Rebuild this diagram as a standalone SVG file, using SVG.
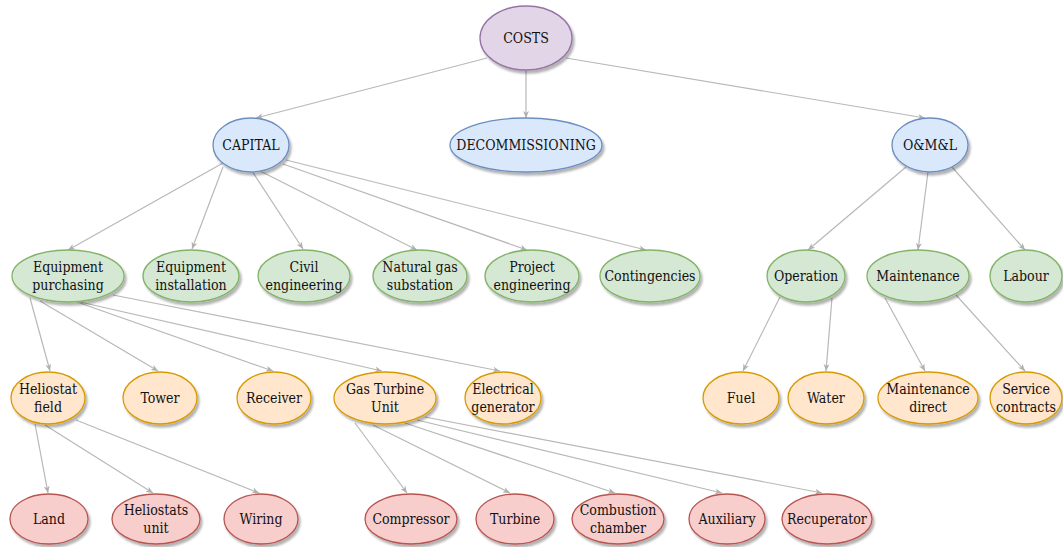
<svg xmlns="http://www.w3.org/2000/svg" width="1063" height="547" viewBox="0 0 1063 547" font-family="DejaVu Serif Condensed, DejaVu Serif, serif" font-size="14">
<style>
text{fill:#111;text-anchor:middle}
.e{stroke:#b8b8b8;stroke-width:1.2;fill:none;marker-end:url(#arr)}
.n ellipse{stroke-width:1.3;filter:url(#sh)}
.p ellipse{fill:#e1d5e7;stroke:#9673a6}
.b ellipse{fill:#dae8fc;stroke:#6c8ebf}
.g ellipse{fill:#d5e8d4;stroke:#82b366}
.o ellipse{fill:#ffe6cc;stroke:#d79b00}
.r ellipse{fill:#f8cecc;stroke:#b85450}
</style>
<defs>
<filter id="sh" x="-20%" y="-20%" width="150%" height="160%">
<feDropShadow dx="2" dy="3" stdDeviation="1.2" flood-color="#000" flood-opacity="0.3"/>
</filter>
<marker id="arr" markerWidth="8" markerHeight="8" refX="7" refY="4" orient="auto" markerUnits="userSpaceOnUse">
<path d="M0,1 L7,4 L0,7 L2,4 Z" fill="#b0b0b0"/>
</marker>
</defs>
<g id="connectors">
<line class="e" x1="487" y1="58" x2="256" y2="118"/>
<line class="e" x1="526" y1="70" x2="526" y2="118"/>
<line class="e" x1="566" y1="58" x2="925" y2="118"/>
<line class="e" x1="223" y1="163" x2="68" y2="250"/>
<line class="e" x1="223" y1="167" x2="192" y2="249"/>
<line class="e" x1="252" y1="171" x2="303" y2="249"/>
<line class="e" x1="260" y1="171" x2="417" y2="250"/>
<line class="e" x1="283" y1="164" x2="527" y2="250"/>
<line class="e" x1="286" y1="160" x2="646" y2="250"/>
<line class="e" x1="906" y1="167" x2="808" y2="250"/>
<line class="e" x1="928" y1="172" x2="918" y2="250"/>
<line class="e" x1="952" y1="167" x2="1025" y2="250"/>
<line class="e" x1="30" y1="298" x2="50" y2="371"/>
<line class="e" x1="40" y1="301" x2="158" y2="371"/>
<line class="e" x1="77" y1="302" x2="273" y2="371"/>
<line class="e" x1="80" y1="302" x2="382" y2="371"/>
<line class="e" x1="113" y1="295" x2="500" y2="371"/>
<line class="e" x1="780" y1="297" x2="743" y2="371"/>
<line class="e" x1="832" y1="298" x2="826" y2="371"/>
<line class="e" x1="885" y1="298" x2="925" y2="371"/>
<line class="e" x1="956" y1="295" x2="1025" y2="371"/>
<line class="e" x1="35" y1="424" x2="48" y2="493"/>
<line class="e" x1="45" y1="425" x2="153" y2="493"/>
<line class="e" x1="76" y1="420" x2="259" y2="493"/>
<line class="e" x1="355" y1="423" x2="407" y2="493"/>
<line class="e" x1="373" y1="425" x2="510" y2="493"/>
<line class="e" x1="405" y1="423" x2="615" y2="493"/>
<line class="e" x1="417" y1="420" x2="722" y2="493"/>
<line class="e" x1="425" y1="417" x2="822" y2="493"/>
</g>
<g id="costs" class="n p"><ellipse cx="526" cy="38" rx="46" ry="32"/><text x="526" y="43">COSTS</text></g>
<g id="capital" class="n b"><ellipse cx="251" cy="145" rx="38" ry="27"/><text x="251" y="150">CAPITAL</text></g>
<g id="decommissioning" class="n b"><ellipse cx="526" cy="145" rx="76" ry="27"/><text x="526" y="150">DECOMMISSIONING</text></g>
<g id="oml" class="n b"><ellipse cx="930" cy="145" rx="38" ry="27"/><text x="930" y="150">O&amp;M&amp;L</text></g>
<g id="equip-purchasing" class="n g"><ellipse cx="68" cy="276" rx="56" ry="26"/><text x="68" y="272">Equipment</text><text x="68" y="290">purchasing</text></g>
<g id="equip-installation" class="n g"><ellipse cx="191" cy="276" rx="48" ry="26"/><text x="191" y="272">Equipment</text><text x="191" y="290">installation</text></g>
<g id="civil" class="n g"><ellipse cx="304" cy="276" rx="46" ry="26"/><text x="304" y="272">Civil</text><text x="304" y="290">engineering</text></g>
<g id="natgas" class="n g"><ellipse cx="420" cy="276" rx="47" ry="26"/><text x="420" y="272">Natural gas</text><text x="420" y="290">substation</text></g>
<g id="project" class="n g"><ellipse cx="532" cy="276" rx="47" ry="26"/><text x="532" y="272">Project</text><text x="532" y="290">engineering</text></g>
<g id="contingencies" class="n g"><ellipse cx="650" cy="276" rx="50" ry="26"/><text x="650" y="281">Contingencies</text></g>
<g id="operation" class="n g"><ellipse cx="806" cy="276" rx="39" ry="26"/><text x="806" y="281">Operation</text></g>
<g id="maintenance" class="n g"><ellipse cx="918" cy="276" rx="51" ry="26"/><text x="918" y="281">Maintenance</text></g>
<g id="labour" class="n g"><ellipse cx="1026" cy="276" rx="36" ry="26"/><text x="1026" y="281">Labour</text></g>
<g id="heliostat-field" class="n o"><ellipse cx="48" cy="398" rx="37" ry="26"/><text x="48" y="394">Heliostat</text><text x="48" y="412">field</text></g>
<g id="tower" class="n o"><ellipse cx="160" cy="398" rx="37" ry="26"/><text x="160" y="403">Tower</text></g>
<g id="receiver" class="n o"><ellipse cx="274" cy="398" rx="37" ry="26"/><text x="274" y="403">Receiver</text></g>
<g id="gas-turbine" class="n o"><ellipse cx="385" cy="398" rx="51" ry="26"/><text x="385" y="394">Gas Turbine</text><text x="385" y="412">Unit</text></g>
<g id="generator" class="n o"><ellipse cx="503" cy="398" rx="38" ry="26"/><text x="503" y="394">Electrical</text><text x="503" y="412">generator</text></g>
<g id="fuel" class="n o"><ellipse cx="741" cy="398" rx="38" ry="26"/><text x="741" y="403">Fuel</text></g>
<g id="water" class="n o"><ellipse cx="826" cy="398" rx="38" ry="26"/><text x="826" y="403">Water</text></g>
<g id="maint-direct" class="n o"><ellipse cx="928" cy="398" rx="50" ry="26"/><text x="928" y="394">Maintenance</text><text x="928" y="412">direct</text></g>
<g id="service" class="n o"><ellipse cx="1026" cy="398" rx="36" ry="26"/><text x="1026" y="394">Service</text><text x="1026" y="412">contracts</text></g>
<g id="land" class="n r"><ellipse cx="49" cy="519" rx="39" ry="25"/><text x="49" y="524">Land</text></g>
<g id="heliostats-unit" class="n r"><ellipse cx="156" cy="519" rx="44" ry="25"/><text x="156" y="515">Heliostats</text><text x="156" y="533">unit</text></g>
<g id="wiring" class="n r"><ellipse cx="261" cy="519" rx="37" ry="25"/><text x="261" y="524">Wiring</text></g>
<g id="compressor" class="n r"><ellipse cx="411" cy="519" rx="46" ry="25"/><text x="411" y="524">Compressor</text></g>
<g id="turbine" class="n r"><ellipse cx="515" cy="519" rx="39" ry="25"/><text x="515" y="524">Turbine</text></g>
<g id="combustion" class="n r"><ellipse cx="618" cy="519" rx="46" ry="25"/><text x="618" y="515">Combustion</text><text x="618" y="533">chamber</text></g>
<g id="auxiliary" class="n r"><ellipse cx="727" cy="519" rx="38" ry="25"/><text x="727" y="524">Auxiliary</text></g>
<g id="recuperator" class="n r"><ellipse cx="827" cy="519" rx="45" ry="25"/><text x="827" y="524">Recuperator</text></g>
</svg>
